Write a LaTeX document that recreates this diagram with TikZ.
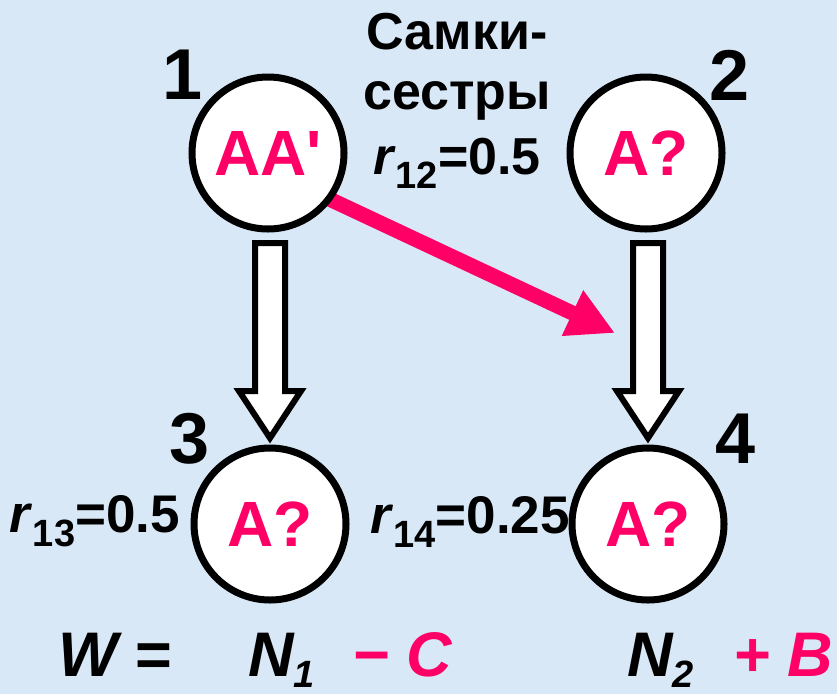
\documentclass[tikz,border=0pt]{standalone}
\usepackage{fontspec}
\setmainfont{Liberation Sans}
\usepackage{xcolor}
\definecolor{cPink}{HTML}{FF0066}
\definecolor{cBack}{HTML}{D9E8F6}
\usepackage{tikz}
\usetikzlibrary{positioning,arrows.meta,calc,backgrounds}
\newcommand{\fsz}[2]{\fontsize{#1}{#2}\selectfont}
\newcommand{\lowsub}[1]{\raisebox{-14pt}{\fsz{38}{40}#1}}
\newcommand{\lowsubN}[1]{\raisebox{-11pt}{\fsz{38}{40}#1}}
\tikzset{
  node-gene/.style={draw=black,line width=7pt,circle,fill=white,
    minimum size=152pt,inner sep=0pt,outer sep=0pt,text=cPink,
    font=\fsz{64}{70}\bfseries},
  node-num/.style={anchor=base,inner sep=0pt,font=\fsz{72}{80}\bfseries},
  node-coef/.style={anchor=base east,inner sep=0pt,font=\fsz{53}{60}\bfseries},
  node-term/.style={anchor=base west,inner sep=0pt,
    font=\fsz{63}{70}\bfseries\itshape},
  arrow-gene/.style={-{Triangle[length=47pt,width=47pt]},line width=15pt,
    draw=cPink},
  arrow-block/.style={draw=black,line width=6pt,fill=white},
}
% hollow block arrow from the bottom of #1 to the top of #2
\newcommand{\blockarrow}[2]{%
  \draw[arrow-block] ($(#1.south -| #2.north)+(-15,14)$)
    -- ($(#2.north)+(-15,-57)$) -- ($(#2.north)+(-31,-57)$)
    -- ($(#2.north)+(0,-10)$)
    -- ($(#2.north)+(31,-57)$) -- ($(#2.north)+(15,-57)$)
    -- ($(#1.south -| #2.north)+(15,14)$) -- cycle;}

\begin{document}
\begin{tikzpicture}[x=1pt,y=-1pt]
  \useasboundingbox (0,0) rectangle (837,694);
  % circles
  \node[node-gene] (g1) at (268,153) {AA\textquotesingle};
  \node[node-gene] (g2) at (646,153) {A?};
  \node[node-gene] (g3) at (270,524) {A?};
  \node[node-gene] (g4) at (648,524) {A?};
  % numbers
  \node[node-num] (k1) at (183,99) {1};
  \node[node-num] (k2) at (730,100) {2};
  \node[node-num] (k3) at (190,463) {3};
  \node[node-num] (k4) at (736,463) {4};
  % relatedness
  \node[anchor=north,align=center,inner sep=0pt,font=\fsz{52}{60}\bfseries]
    (sis) at (457,13) {Самки-\\сестры\\[5pt]\textit{r}\lowsub{12}=0.5};
  \node[node-coef] (c13) at (180,532) {\textit{r}\lowsub{13}=0.5};
  \node[node-coef] (c14) at (570,533) {\textit{r}\lowsub{14}=0.25};
  % fitness
  \node[node-term] (w) at (58,676) {W {\upshape=}};
  \node[node-term] (n1) at (248,676) {N\lowsubN{1}};
  \node[node-term,text=cPink] (cost) at (352,676) {− C};
  \node[node-term] (n2) at (627,676) {N\lowsubN{2}};
  \node[node-term,text=cPink] (gain) at (733,676) {+ B};
  % offspring
  \blockarrow{g1}{g3}
  \blockarrow{g2}{g4}
  \coordinate (hit) at (615,333);
  \begin{scope}[on background layer]
    \fill[cBack] (0,0) rectangle (837,694);
    \draw[arrow-gene] (g1.-37) -- (hit);
  \end{scope}
\end{tikzpicture}
\end{document}
